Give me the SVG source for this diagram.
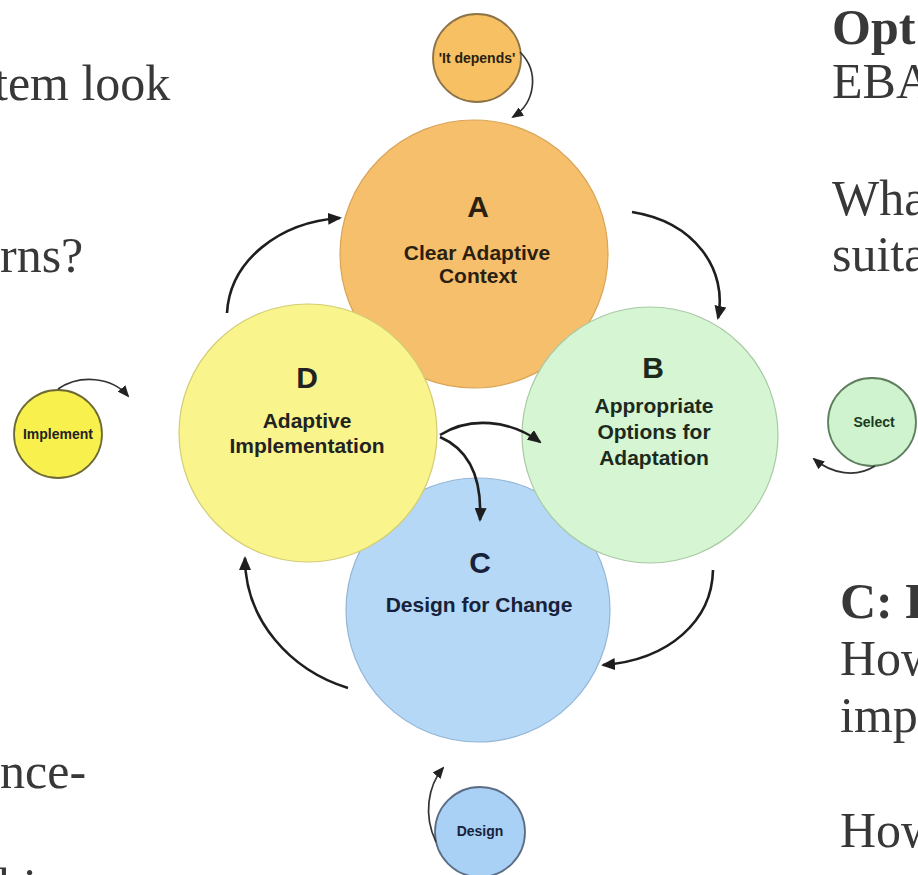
<svg xmlns="http://www.w3.org/2000/svg" width="918" height="875" viewBox="0 0 918 875">
<defs>
<marker id="ah" viewBox="0 0 14 12" refX="12" refY="6" markerWidth="14" markerHeight="12" orient="auto" markerUnits="userSpaceOnUse"><path d="M0,0 L14,6 L0,12 z" fill="#1e1e1e"/></marker>
<marker id="ahs" viewBox="0 0 12 10" refX="10" refY="5" markerWidth="12" markerHeight="10" orient="auto" markerUnits="userSpaceOnUse"><path d="M0,0 L12,5 L0,10 z" fill="#222"/></marker>
</defs>
<style>
.lbl{font-family:"Liberation Sans",Arial,sans-serif;font-weight:bold;text-anchor:middle}
.letter{font-size:30px}
.name{font-size:21px}
.small{font-size:14px}
.side{font-family:"Liberation Serif","Times New Roman",serif;font-size:50px;fill:#383838}
.sideb{font-weight:bold}
.conn{fill:none;stroke:#1e1e1e;stroke-width:2.6;marker-end:url(#ah)}
.sconn{fill:none;stroke:#333;stroke-width:1.7;marker-end:url(#ahs)}
.big{stroke-width:1.2}
.sm{stroke-width:1.8}
</style>
<rect width="918" height="875" fill="#ffffff"/>

<g id="side-text">
<text class="side" x="-6" y="100">tem look</text>
<text class="side" x="0" y="272">rns?</text>
<text class="side" x="0" y="788">nce-</text>
<text class="side" x="-2" y="903">hi</text>
<text class="side sideb" x="832" y="44">Opt</text>
<text class="side" x="832" y="98">EBA</text>
<text class="side" x="832" y="215">Wha</text>
<text class="side" x="832" y="271">suita</text>
<text class="side sideb" x="840" y="618">C: D</text>
<text class="side" x="840" y="675">How</text>
<text class="side" x="840" y="732">imp</text>
<text class="side" x="840" y="847">How</text>
</g>

<g id="nodeA">
<circle class="big" cx="474" cy="254" r="134" fill="#F6BF6C" stroke="#D9A458"/>
<text class="lbl letter" x="478" y="217" fill="#2a1f10">A</text>
<text class="lbl name" x="477" y="260" fill="#2a1f10">Clear Adaptive</text>
<text class="lbl name" x="478" y="283" fill="#2a1f10">Context</text>
</g>

<g id="nodeC">
<circle class="big" cx="478" cy="610" r="132" fill="#B4D8F6" stroke="#94B6D6"/>
<text class="lbl letter" x="480" y="573" fill="#17223a">C</text>
<text class="lbl name" x="479" y="612" fill="#17223a">Design for Change</text>
</g>

<g id="nodeB">
<circle class="big" cx="650" cy="435" r="128" fill="#D5F5D3" stroke="#A9C9A4"/>
<text class="lbl letter" x="653" y="378" fill="#1c2a1c">B</text>
<text class="lbl name" x="654" y="413" fill="#1c2a1c">Appropriate</text>
<text class="lbl name" x="654" y="439" fill="#1c2a1c">Options for</text>
<text class="lbl name" x="654" y="465" fill="#1c2a1c">Adaptation</text>
</g>

<g id="nodeD">
<circle class="big" cx="308" cy="433" r="129" fill="#F9F58C" stroke="#D3CC74"/>
<text class="lbl letter" x="307" y="388" fill="#222">D</text>
<text class="lbl name" x="307" y="428" fill="#222">Adaptive</text>
<text class="lbl name" x="307" y="453" fill="#222">Implementation</text>
</g>

<g id="depends">
<circle class="sm" cx="477" cy="58" r="44" fill="#F7C063" stroke="#8C7448"/>
<text class="lbl small" x="477" y="63" fill="#2a1f10">'It depends'</text>
</g>
<g id="implement">
<circle class="sm" cx="58" cy="434" r="44" fill="#F8F04C" stroke="#6E6A36"/>
<text class="lbl small" x="58" y="439" fill="#222">Implement</text>
</g>
<g id="select">
<circle class="sm" cx="872" cy="422" r="44" fill="#CFF3CF" stroke="#5E7E5E"/>
<text class="lbl small" x="874" y="427" fill="#1c3a1c">Select</text>
</g>
<g id="design">
<circle class="sm" cx="480" cy="832" r="45" fill="#A9D1F5" stroke="#5C6C84"/>
<text class="lbl small" x="480" y="836" fill="#17223a">Design</text>
</g>

<g id="connectors">
<path class="conn" d="M227,313 C230,260 280,222 340,218"/>
<path class="conn" d="M632,212 C695,222 728,270 718,318"/>
<path class="conn" d="M713,570 C712,620 670,660 603,665"/>
<path class="conn" d="M348,688 C290,670 245,620 245,558"/>
<path class="conn" d="M440,435 C470,416 510,420 540,442"/>
<path class="conn" d="M440,437 C470,450 482,480 480,520"/>
<path class="sconn" d="M520,52 C540,72 535,103 513,117"/>
<path class="sconn" d="M58,389 C80,374 112,377 128,396"/>
<path class="sconn" d="M875,466 C856,478 832,474 814,459"/>
<path class="sconn" d="M436,842 C423,815 428,786 443,768"/>
</g>
</svg>
